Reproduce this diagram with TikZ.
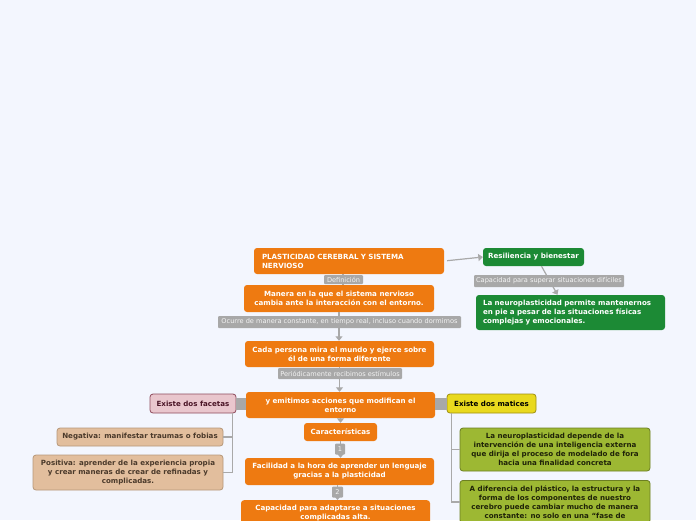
\documentclass[tikz,border=0pt]{standalone}
\usepackage{fontspec}
\setmainfont{DejaVu Sans}
\usetikzlibrary{arrows.meta}
\definecolor{bgc}{HTML}{F3F6FE}
\definecolor{orangec}{HTML}{EE7A11}
\definecolor{lgray}{HTML}{A8A8A8}
\definecolor{ltext}{HTML}{F4F4F4}
\definecolor{linec}{HTML}{A9A9A9}
\definecolor{greenc}{HTML}{1C8A35}
\definecolor{pinkc}{HTML}{E9C6CD}
\definecolor{pinkd}{HTML}{8E4B5C}
\definecolor{pinkt}{HTML}{4A1426}
\definecolor{tanc}{HTML}{E2BE9D}
\definecolor{tand}{HTML}{B7987A}
\definecolor{tant}{HTML}{4B3A2B}
\definecolor{yelc}{HTML}{E9D91E}
\definecolor{yeld}{HTML}{9E8F12}
\definecolor{olic}{HTML}{9DB833}
\definecolor{olid}{HTML}{6C7F22}
\definecolor{olit}{HTML}{1F2308}
\newcommand\nodefont{\fontsize{7.1}{9}\selectfont\bfseries}
\newcommand\labfont{\fontsize{6.6}{7}\selectfont}
\begin{document}
\begin{tikzpicture}[x=1pt,y=-1pt,
  box/.style={rounded corners=3pt, font=\nodefont, inner sep=0pt, align=center},
  obox/.style={box, fill=orangec, text=white},
  gbox/.style={box, fill=greenc, text=white},
  pbox/.style={box, fill=pinkc, draw=pinkd, line width=0.8pt, text=pinkt},
  tbox/.style={box, fill=tanc, draw=tand, line width=0.8pt, text=tant},
  ybox/.style={box, fill=yelc, draw=yeld, line width=0.8pt, text=black},
  lbox/.style={box, fill=olic, draw=olid, line width=0.8pt, text=olit},
  glabel/.style={fill=lgray, text=ltext, font=\labfont, inner sep=0pt, rounded corners=1pt},
  conn/.style={draw=linec, line width=1.2pt, -{Triangle[width=7pt,length=4.5pt]}},
  plain/.style={draw=linec, line width=1.2pt},
  tree/.style={draw=linec, line width=1.5pt},
  block/.style={draw=lgray, line width=12pt}
]
\useasboundingbox (0,0) rectangle (696,520);
\fill[bgc] (0,0) rectangle (696,520);
\clip (0,0) rectangle (696,520);

% main column
\node[obox, text width=174pt, align=left, inner xsep=8pt, minimum height=26pt] (main) at (349,261) {PLASTICIDAD CEREBRAL Y SISTEMA\\NERVIOSO};
\node[obox, minimum width=190pt, minimum height=27pt] (manera) at (339,298.5) {Manera en la que el sistema nervioso\\cambia ante la interacción con el entorno.};
\node[obox, minimum width=189pt, minimum height=26pt] (cada) at (339.5,354) {Cada persona mira el mundo y ejerce sobre\\él de una forma diferente};
\node[obox, minimum width=189pt, minimum height=26pt] (emit) at (340.5,405) {y emitimos acciones que modifican el\\entorno};
\node[obox, minimum width=73pt, minimum height=18pt] (caract) at (340.5,432) {Características};
\node[obox, minimum width=189pt, minimum height=27pt] (facil) at (339.5,471.5) {Facilidad a la hora de aprender un lenguaje\\gracias a la plasticidad};
\node[obox, anchor=north, minimum width=189pt, inner ysep=5pt] (capac) at (335.5,500) {Capacidad para adaptarse a situaciones\\complicadas alta.};

% right branch
\node[gbox, minimum width=101pt, minimum height=18pt] (resil) at (533.5,257) {Resiliencia y bienestar};
\node[gbox, text width=175pt, align=left, inner xsep=7pt, minimum height=35pt] (neuro) at (570.5,312.5) {La neuroplasticidad permite mantenernos\\en pie a pesar de las situaciones físicas\\complejas y emocionales.};

% facetas
\node[pbox, minimum width=86pt, minimum height=19pt] (facetas) at (193,403.5) {Existe dos facetas};
\node[tbox, minimum width=166pt, minimum height=18pt] (neg) at (140,437) {Negativa: manifestar traumas o fobias};
\node[tbox, minimum width=190pt, minimum height=35pt] (pos) at (128,472.5) {Positiva: aprender de la experiencia propia\\y crear maneras de crear de refinadas y\\complicadas.};

% matices
\node[ybox, minimum width=89pt, minimum height=19pt] (matices) at (491.5,403.5) {Existe dos matices};
\node[lbox, minimum width=190pt, minimum height=43pt] (mat1) at (555,449.5) {La neuroplasticidad depende de la\\intervención de una inteligencia externa\\que dirija el proceso de modelado de fora\\hacia una finalidad concreta};
\node[lbox, anchor=north, minimum width=190pt, inner ysep=5pt] (mat2) at (555,480) {A diferencia del plástico, la estructura y la\\forma de los componentes de nuestro\\cerebro puede cambiar mucho de manera\\constante: no solo en una ``fase de};

% connectors
\draw[plain] (main.south -| 343,0) -- (manera.north -| 343,0);
\draw[conn] (manera.south) -- (cada.north -| manera.south);
\draw[conn] (cada.south) -- (emit.north -| cada.south);
\draw[conn] (emit.south) -- (caract.north);
\draw[conn] (caract.south) -- (facil.north -| caract.south);
\draw[conn] (facil.south -| 337.5,0) -- (capac.north -| 337.5,0);
\draw[conn, shorten <=3pt] (main.east) -- (resil.west);
\draw[conn] ([xshift=8pt]resil.south) -- ([xshift=-13pt]neuro.north);

\draw[block] (facetas.east) -- (facetas.east -| emit.west);
\draw[block] (matices.west) -- (matices.west -| emit.east);
\draw[tree] ([xshift=-4pt]facetas.south east) |- (neg.east);
\draw[tree] ([xshift=-4pt]facetas.south east) |- (pos.east);
\draw[tree] ([xshift=5pt]matices.south west) |- (mat1.west);
\draw[tree] ([xshift=5pt]matices.south west) |- (mat2.west);

% connector labels
\node[glabel, minimum width=39pt, minimum height=9pt] (ldef) at (343.5,279.5) {Definición};
\node[glabel, minimum width=243pt, minimum height=12pt] (locurre) at (339.5,322) {Ocurre de manera constante, en tiempo real, incluso cuando dormimos};
\node[glabel, minimum width=124pt, minimum height=11pt] (lperi) at (340,373.5) {Periódicamente recibimos estímulos};
\node[glabel, minimum width=10pt, minimum height=11pt] (lone) at (340,449) {1};
\node[glabel, minimum width=11pt, minimum height=11pt] (ltwo) at (337.5,492) {2};
\node[glabel, minimum width=150pt, minimum height=12pt] (lcap) at (549,281) {Capacidad para superar situaciones difíciles};
\end{tikzpicture}
\end{document}
